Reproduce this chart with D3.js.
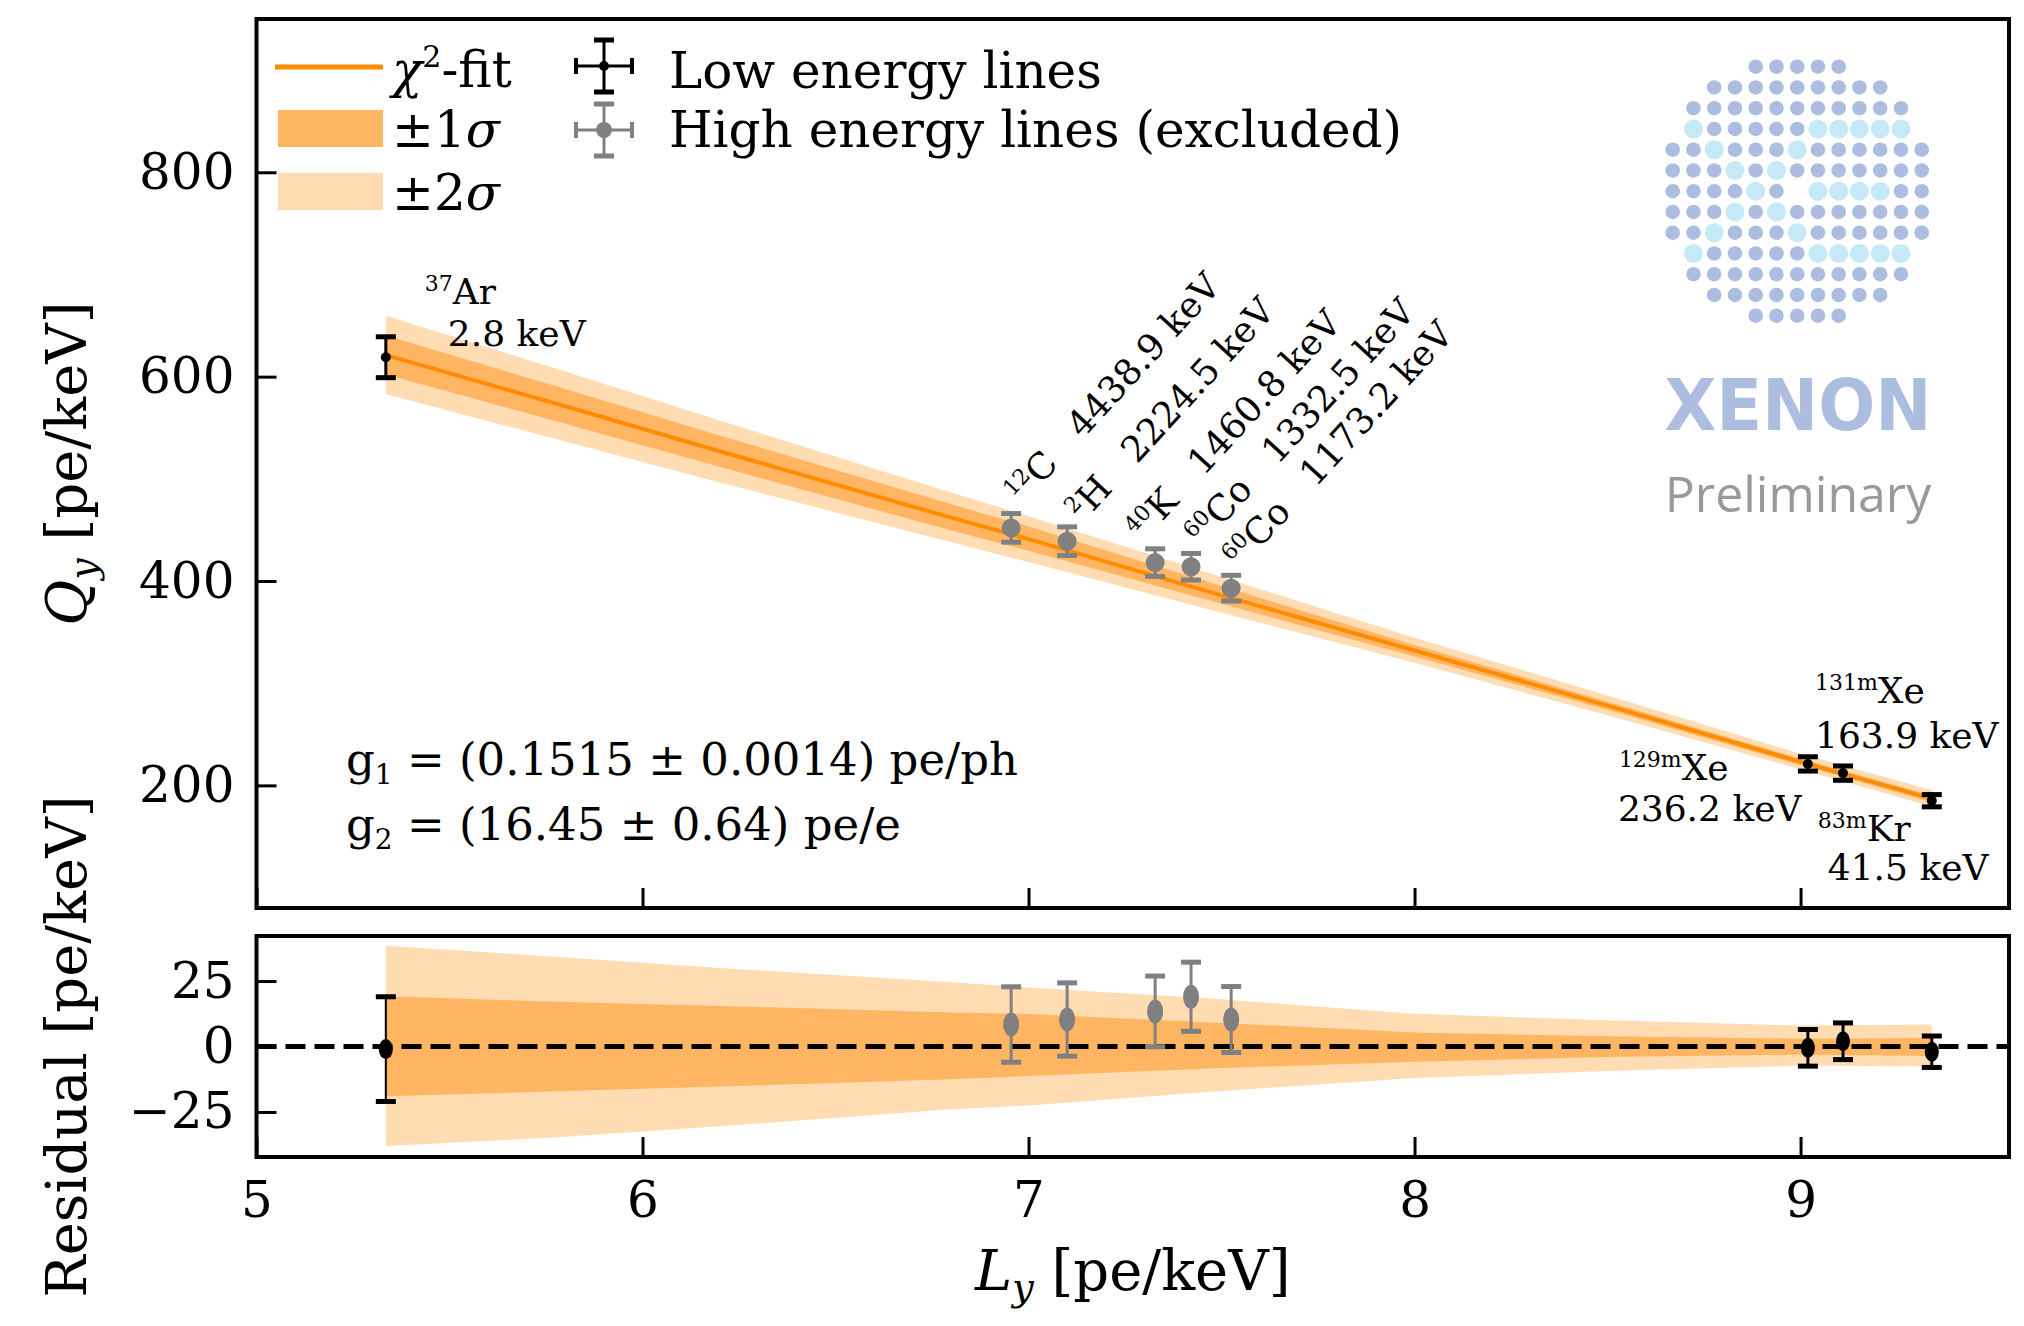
<!DOCTYPE html>
<html>
<head>
<meta charset="utf-8">
<script src="https://cdn.jsdelivr.net/npm/d3@7"></script>
<style>
body { margin: 0; background: #fff; }
svg { display: block; font-family: "DejaVu Serif", serif; }
</style>
</head>
<body>
<svg id="chart" width="2024" height="1326"></svg>
<script>
// calibration lines
let isotopes = ["37", "12", "2", "40", "60", "60", "129m", "131m", "83m"];
let elements = ["Ar", "C", "H", "K", "Co", "Co", "Xe", "Xe", "Kr"];
let energies = ["2.8", "4438.9", "2224.5", "1460.8", "1332.5", "1173.2", "236.2", "163.9", "41.5"];
let excluded = [false, true, true, true, true, true, false, false, false];
let ly = [5.335, 6.955, 7.100, 7.328, 7.421, 7.525, 9.019, 9.110, 9.340];
let qy = [619, 452, 439, 418, 414, 393, 221, 212, 185];
let qyErr = [20, 14, 14, 13.5, 13, 12.6, 7, 7, 6];
let resid = [-1, 8.4, 10.3, 13.4, 19, 10.3, -0.5, 2, -2];
let residErr = [20, 14.4, 14, 13.5, 13.2, 12.6, 7, 7, 6];

// chi2 fit and its bands (band values relative to the fit)
let bandLy = [5.335, 5.8, 6.2, 6.8, 7.0, 7.5, 8.0, 8.5, 9.0, 9.34];
let fitQy = [621, 571, 527, 462, 441, 386, 332, 278, 223, 187];
let sig1Hi = [19.2, 17, 15.5, 13, 12.4, 9, 5.3, 3.9, 3, 3.2];
let sig1Lo = [-19, -17, -15.3, -12.5, -11.3, -8.2, -5.8, -4, -3.1, -3.6];
let sig2Hi = [38.5, 34, 30, 24.5, 22.5, 18, 12.5, 10, 8, 8.4];
let sig2Lo = [-38, -34.5, -30.5, -24, -22.5, -17, -12, -9.4, -7.3, -7.6];

let xTicks = [5, 6, 7, 8, 9];
let yTicksTop = [200, 400, 600, 800];
let yTicksRes = [-25, 0, 25];

// label placement (px offsets from the point)
let flatLabel = { 0: [39, -53, 62, -11], 6: [-189, 16, -190, 57], 7: [-28, -70, -28, -25], 8: [-114, 40, -104, 79] };
let tiltLabel = { 1: [11, -22], 2: [16, -18], 3: [-12, -20], 4: [11, -19], 5: [9, -18] };

const L = 256.5, R = 2009, T1 = 19, B1 = 908, T2 = 936, B2 = 1157;
const orange = "#ff8c00", c1 = "#ffb561", c2 = "#ffdcb2", grey = "#808080";

let svg = d3.select("#chart");

let x = d3.scaleLinear().domain([5, 9.54]).range([L, R]);
let y = d3.scaleLinear().domain([80, 950]).range([B1, T1]);
let yr = d3.scaleLinear().domain([-42.2, 42.2]).range([B2, T2]);

let bands = bandLy.map((v, i) => ({
    ly: v, fit: fitQy[i],
    s1lo: sig1Lo[i], s1hi: sig1Hi[i], s2lo: sig2Lo[i], s2hi: sig2Hi[i]
}));
let pts = ly.map((v, i) => ({
    i: i, ly: v, qy: qy[i], qe: qyErr[i], r: resid[i], re: residErr[i], ex: excluded[i]
}));

// ---------- top panel ----------
let mainPanel = svg.append("g");

mainPanel.append("path").datum(bands)
    .attr("fill", c2)
    .attr("d", d3.area().x(d => x(d.ly)).y0(d => y(d.fit + d.s2lo)).y1(d => y(d.fit + d.s2hi)));
mainPanel.append("path").datum(bands)
    .attr("fill", c1)
    .attr("d", d3.area().x(d => x(d.ly)).y0(d => y(d.fit + d.s1lo)).y1(d => y(d.fit + d.s1hi)));
mainPanel.append("path").datum(bands)
    .attr("fill", "none")
    .attr("stroke", orange)
    .attr("stroke-width", 4)
    .attr("d", d3.line().x(d => x(d.ly)).y(d => y(d.fit)));

function errorBar(g, cx, ylo, yhi, color, bw, capw) {
    g.append("line").attr("x1", cx).attr("x2", cx).attr("y1", ylo).attr("y2", yhi)
        .attr("stroke", color).attr("stroke-width", bw);
    [ylo, yhi].forEach(yy => {
        g.append("line").attr("x1", cx - 10).attr("x2", cx + 10).attr("y1", yy).attr("y2", yy)
            .attr("stroke", color).attr("stroke-width", capw);
    });
}

let mainPts = mainPanel.append("g");
pts.forEach(p => {
    let col = p.ex ? grey : "#000";
    errorBar(mainPts, x(p.ly), y(p.qy - p.qe), y(p.qy + p.qe), col, 3, 5);
    mainPts.append("circle").attr("cx", x(p.ly)).attr("cy", y(p.qy))
        .attr("r", p.ex ? 9.5 : 5).attr("fill", col);
});

// frame + axes
mainPanel.append("rect").attr("x", L).attr("y", T1).attr("width", R - L).attr("height", B1 - T1)
    .attr("fill", "none").attr("stroke", "#000").attr("stroke-width", 4);

function styleAxis(g, size) {
    g.select(".domain").remove();
    g.selectAll("line").attr("stroke-width", 3);
    g.attr("font-family", "DejaVu Serif").attr("font-size", size);
    g.selectAll("text").attr("fill", "#000");
}

mainPanel.append("g").attr("transform", `translate(${L},0)`)
    .call(d3.axisLeft(y).tickValues(yTicksTop).tickSizeInner(-20).tickSizeOuter(0).tickPadding(22))
    .call(g => styleAxis(g, 50));
mainPanel.append("g").attr("transform", `translate(0,${B1})`)
    .call(d3.axisBottom(x).tickValues(xTicks).tickSizeInner(-20).tickSizeOuter(0).tickFormat(""))
    .call(g => styleAxis(g, 50));

// line labels
function isoText(t, iso, el, rest) {
    t.append("tspan").attr("font-size", 22).attr("dy", -13).text(iso);
    t.append("tspan").attr("dy", 13).text(el + (rest || ""));
}
let labels = mainPanel.append("g").attr("font-size", 36).attr("fill", "#000");
pts.forEach(p => {
    let px = x(p.ly), py = y(p.qy);
    if (flatLabel[p.i]) {
        let o = flatLabel[p.i];
        isoText(labels.append("text").attr("x", px + o[0]).attr("y", py + o[1]), isotopes[p.i], elements[p.i]);
        labels.append("text").attr("x", px + o[2]).attr("y", py + o[3]).text(energies[p.i] + " keV");
    } else {
        let o = tiltLabel[p.i];
        let t = labels.append("text")
            .attr("transform", `translate(${px + o[0]},${py + o[1]}) rotate(-47.5)`);
        isoText(t, isotopes[p.i], elements[p.i], "\u00a0\u00a0\u00a0" + energies[p.i] + " keV");
    }
});

// g1 / g2 text
let gtxt = mainPanel.append("g").attr("font-size", 45);
let g1 = gtxt.append("text").attr("x", 346).attr("y", 775);
g1.append("tspan").text("g");
g1.append("tspan").attr("font-size", 28).attr("dy", 9).text("1");
g1.append("tspan").attr("dy", -9).text(" = (0.1515 ± 0.0014) pe/ph");
let g2 = gtxt.append("text").attr("x", 346).attr("y", 840);
g2.append("tspan").text("g");
g2.append("tspan").attr("font-size", 28).attr("dy", 9).text("2");
g2.append("tspan").attr("dy", -9).text(" = (16.45 ± 0.64) pe/e");

// legend
let leg = mainPanel.append("g").attr("font-size", 50);
leg.append("line").attr("x1", 275).attr("x2", 383).attr("y1", 67).attr("y2", 67)
    .attr("stroke", orange).attr("stroke-width", 5);
leg.append("rect").attr("x", 278).attr("y", 110).attr("width", 105).attr("height", 37).attr("fill", c1);
leg.append("rect").attr("x", 278).attr("y", 173).attr("width", 105).attr("height", 37).attr("fill", c2);
let lt = leg.append("text").attr("x", 392).attr("y", 87);
lt.append("tspan").attr("font-style", "italic").text("χ");
lt.append("tspan").attr("font-size", 30).attr("dy", -20).text("2");
lt.append("tspan").attr("dy", 20).text("-fit");
let s1 = leg.append("text").attr("x", 392).attr("y", 147);
s1.append("tspan").text("±1");
s1.append("tspan").attr("font-style", "italic").text("σ");
let s2 = leg.append("text").attr("x", 392).attr("y", 210);
s2.append("tspan").text("±2");
s2.append("tspan").attr("font-style", "italic").text("σ");

[[66, "#000", 5, "Low energy lines", 88], [130, grey, 8, "High energy lines (excluded)", 147]].forEach(e => {
    let cy = e[0], col = e[1];
    errorBar(leg, 604, cy - 26, cy + 26, col, 3, 5);
    leg.append("line").attr("x1", 576).attr("x2", 632).attr("y1", cy).attr("y2", cy)
        .attr("stroke", col).attr("stroke-width", 3);
    [576, 632].forEach(xx => leg.append("line").attr("x1", xx).attr("x2", xx)
        .attr("y1", cy - 8).attr("y2", cy + 8).attr("stroke", col).attr("stroke-width", 4));
    leg.append("circle").attr("cx", 604).attr("cy", cy).attr("r", e[2]).attr("fill", col);
    leg.append("text").attr("x", 669).attr("y", e[4]).text(e[3]);
});

// XENON logo
let logoRows = [
    "    .....    ",
    "  .........  ",
    " ........... ",
    " o.....ooooo ",
    "..o...o......",
    "...o.o.......",
    "....o. oooo..",
    "...o.o.......",
    "..o...o......",
    " o.....ooooo ",
    " ........... ",
    "  .........  ",
    "    .....    "
];
let logo = svg.append("g");
[".", "o"].forEach(kind => {
    logoRows.forEach((row, r) => row.split("").forEach((ch, c) => {
        if (ch !== kind) return;
        logo.append("circle")
            .attr("cx", 1672.7 + c * 20.75).attr("cy", 66.7 + r * 20.75)
            .attr("r", ch === "o" ? 9.5 : 7.3)
            .attr("fill", ch === "o" ? "#c6e9f8" : "#adbde0");
    }));
});
logo.append("text").attr("x", 1798).attr("y", 430).attr("text-anchor", "middle")
    .attr("font-family", "DejaVu Sans").attr("font-weight", "bold").attr("font-size", 72)
    .attr("textLength", 267).attr("lengthAdjust", "spacingAndGlyphs")
    .attr("fill", "#adbde0").text("XENON");
logo.append("text").attr("x", 1798).attr("y", 512).attr("text-anchor", "middle")
    .attr("font-family", "Open Sans").attr("font-size", 50)
    .attr("fill", "#999").text("Preliminary");

// ---------- residual panel ----------
let resPanel = svg.append("g");
resPanel.append("path").datum(bands)
    .attr("fill", c2)
    .attr("d", d3.area().x(d => x(d.ly)).y0(d => yr(d.s2lo)).y1(d => yr(d.s2hi)));
resPanel.append("path").datum(bands)
    .attr("fill", c1)
    .attr("d", d3.area().x(d => x(d.ly)).y0(d => yr(d.s1lo)).y1(d => yr(d.s1hi)));
resPanel.append("line").attr("x1", L).attr("x2", R).attr("y1", yr(0)).attr("y2", yr(0))
    .attr("stroke", "#000").attr("stroke-width", 5).attr("stroke-dasharray", "20,9");

pts.forEach(p => {
    let col = p.ex ? grey : "#000";
    errorBar(resPanel, x(p.ly), yr(p.r - p.re), yr(p.r + p.re), col, p.i === 0 ? 2 : 3, 5);
    resPanel.append("ellipse").attr("cx", x(p.ly)).attr("cy", yr(p.r))
        .attr("rx", p.ex ? 8 : 7).attr("ry", p.ex ? 12 : 10).attr("fill", col);
});

resPanel.append("rect").attr("x", L).attr("y", T2).attr("width", R - L).attr("height", B2 - T2)
    .attr("fill", "none").attr("stroke", "#000").attr("stroke-width", 4);

resPanel.append("g").attr("transform", `translate(${L},0)`)
    .call(d3.axisLeft(yr).tickValues(yTicksRes).tickSizeInner(-20).tickSizeOuter(0).tickPadding(22))
    .call(g => styleAxis(g, 50));
resPanel.append("g").attr("transform", `translate(0,${B2})`)
    .call(d3.axisBottom(x).tickValues(xTicks).tickSizeInner(-20).tickSizeOuter(0).tickPadding(24)
        .tickFormat(d3.format("d")))
    .call(g => styleAxis(g, 50));

// axis titles
let xl = svg.append("text").attr("x", (L + R) / 2).attr("y", 1290)
    .attr("text-anchor", "middle").attr("font-size", 56);
xl.append("tspan").attr("font-style", "italic").text("L");
xl.append("tspan").attr("font-style", "italic").attr("font-size", 38).attr("dy", 10).text("y");
xl.append("tspan").attr("dy", -10).text(" [pe/keV]");

let yl = svg.append("text").attr("transform", `translate(86,${(T1 + B1) / 2}) rotate(-90)`)
    .attr("text-anchor", "middle").attr("font-size", 56);
yl.append("tspan").attr("font-style", "italic").text("Q");
yl.append("tspan").attr("font-style", "italic").attr("font-size", 38).attr("dy", 10).text("y");
yl.append("tspan").attr("dy", -10).text(" [pe/keV]");

svg.append("text").attr("transform", `translate(86,${(T2 + B2) / 2}) rotate(-90)`)
    .attr("text-anchor", "middle").attr("font-size", 56)
    .text("Residual [pe/keV]");
</script>
</body>
</html>
